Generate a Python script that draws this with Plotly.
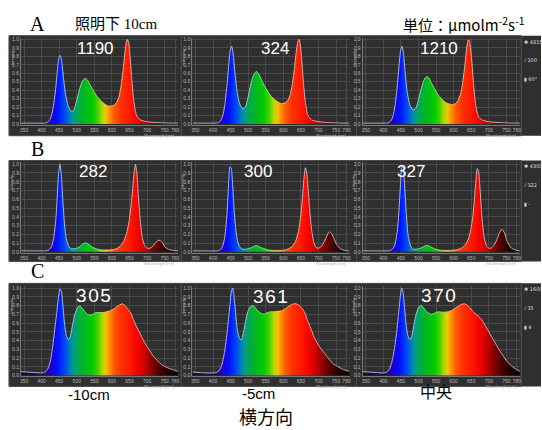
import plotly.graph_objects as go

# ---------------- data ----------------
WL_A = [342, 380, 405, 415, 422, 428, 434, 440, 445, 449, 453, 457, 462, 468, 475, 482, 488, 494, 500, 506,
        512, 518, 524, 530, 537, 545, 555, 565, 575, 585, 595, 605, 613, 620, 626, 632, 637, 641, 644, 648,
        652, 657, 663, 670, 680, 695, 715, 740, 765, 788]
A1 = [0.01, 0.01, 0.01, 0.015, 0.04, 0.1, 0.22, 0.42, 0.64, 0.78, 0.81, 0.74, 0.55, 0.35, 0.22, 0.16, 0.15, 0.19, 0.28, 0.38,
      0.47, 0.52, 0.54, 0.52, 0.47, 0.41, 0.34, 0.29, 0.25, 0.22, 0.21, 0.22, 0.25, 0.32, 0.45, 0.65, 0.85, 0.97, 1.0, 0.95,
      0.78, 0.5, 0.25, 0.1, 0.05, 0.03, 0.02, 0.015, 0.01, 0.01]
A2 = [0.01, 0.01, 0.01, 0.015, 0.04, 0.1, 0.24, 0.47, 0.71, 0.87, 0.92, 0.84, 0.62, 0.4, 0.25, 0.19, 0.18, 0.22, 0.32, 0.44,
      0.54, 0.6, 0.62, 0.59, 0.53, 0.46, 0.39, 0.33, 0.29, 0.26, 0.24, 0.25, 0.28, 0.35, 0.48, 0.67, 0.86, 0.97, 1.0, 0.95,
      0.78, 0.5, 0.25, 0.1, 0.05, 0.03, 0.02, 0.015, 0.01, 0.01]
A3 = [0.01, 0.01, 0.01, 0.015, 0.04, 0.1, 0.24, 0.47, 0.71, 0.87, 0.92, 0.84, 0.6, 0.37, 0.23, 0.175, 0.17, 0.2, 0.29, 0.39,
      0.48, 0.54, 0.56, 0.54, 0.48, 0.42, 0.35, 0.3, 0.26, 0.24, 0.23, 0.24, 0.28, 0.36, 0.5, 0.7, 0.9, 0.99, 0.99, 0.9,
      0.72, 0.45, 0.22, 0.09, 0.05, 0.03, 0.02, 0.015, 0.01, 0.01]

WL_B = [342, 380, 410, 420, 428, 434, 440, 444, 448, 452, 456, 460, 465, 470, 477, 485, 495, 505, 515, 522,
        528, 535, 545, 558, 572, 590, 605, 615, 625, 635, 643, 650, 655, 659, 663, 667, 671, 675, 680, 686,
        693, 700, 708, 716, 724, 731, 737, 744, 752, 762, 775, 788]
B1 = [0.01, 0.01, 0.01, 0.02, 0.06, 0.15, 0.35, 0.6, 0.88, 1.0, 0.88, 0.6, 0.32, 0.15, 0.06, 0.035, 0.035, 0.05, 0.08, 0.1,
      0.1, 0.08, 0.05, 0.03, 0.02, 0.02, 0.025, 0.04, 0.07, 0.13, 0.23, 0.38, 0.55, 0.72, 0.9, 1.0, 0.9, 0.65, 0.38, 0.17,
      0.07, 0.04, 0.04, 0.06, 0.1, 0.13, 0.13, 0.1, 0.05, 0.025, 0.015, 0.01]
B2 = [0.01, 0.01, 0.01, 0.02, 0.07, 0.18, 0.45, 0.75, 0.97, 0.95, 0.75, 0.48, 0.25, 0.12, 0.05, 0.03, 0.03, 0.04, 0.06, 0.07,
      0.065, 0.05, 0.035, 0.02, 0.015, 0.015, 0.02, 0.035, 0.06, 0.12, 0.23, 0.42, 0.65, 0.85, 0.96, 0.9, 0.7, 0.48, 0.27, 0.12,
      0.05, 0.04, 0.06, 0.11, 0.18, 0.23, 0.21, 0.15, 0.08, 0.035, 0.015, 0.01]
B3 = [0.01, 0.01, 0.01, 0.015, 0.04, 0.1, 0.25, 0.45, 0.72, 0.95, 0.98, 0.78, 0.45, 0.2, 0.07, 0.03, 0.03, 0.04, 0.06, 0.07,
      0.07, 0.055, 0.035, 0.02, 0.015, 0.015, 0.02, 0.03, 0.05, 0.09, 0.16, 0.28, 0.42, 0.6, 0.8, 0.95, 0.92, 0.72, 0.42, 0.18,
      0.07, 0.04, 0.045, 0.08, 0.15, 0.22, 0.26, 0.22, 0.12, 0.05, 0.02, 0.01]

WL_C = [342, 360, 380, 400, 410, 418, 425, 432, 438, 443, 448, 452, 456, 460, 465, 470, 476, 481, 487, 493,
        499, 505, 511, 517, 523, 530, 537, 545, 555, 565, 575, 585, 595, 605, 615, 623, 630, 637, 645, 653,
        661, 670, 680, 690, 700, 710, 720, 730, 740, 752, 765, 778, 788]
C1 = [0.045, 0.04, 0.035, 0.03, 0.04, 0.08, 0.17, 0.35, 0.55, 0.72, 0.9, 0.99, 0.97, 0.82, 0.6, 0.46, 0.41, 0.44, 0.56, 0.68,
      0.75, 0.79, 0.79, 0.76, 0.73, 0.7, 0.69, 0.7, 0.72, 0.72, 0.72, 0.73, 0.74, 0.76, 0.79, 0.81, 0.82, 0.8, 0.76, 0.72,
      0.64, 0.56, 0.48, 0.4, 0.33, 0.27, 0.21, 0.17, 0.13, 0.1, 0.08, 0.06, 0.05]
C2 = [0.04, 0.035, 0.03, 0.03, 0.035, 0.06, 0.12, 0.25, 0.42, 0.6, 0.8, 0.95, 1.0, 0.9, 0.68, 0.5, 0.42, 0.41, 0.5, 0.63,
      0.73, 0.78, 0.8, 0.79, 0.76, 0.73, 0.71, 0.7, 0.72, 0.73, 0.73, 0.735, 0.74, 0.76, 0.79, 0.81, 0.82, 0.82, 0.8, 0.77,
      0.72, 0.62, 0.52, 0.42, 0.35, 0.29, 0.24, 0.19, 0.14, 0.11, 0.08, 0.06, 0.05]
C3 = [0.045, 0.04, 0.035, 0.03, 0.04, 0.08, 0.17, 0.32, 0.5, 0.7, 0.9, 1.0, 0.95, 0.78, 0.57, 0.45, 0.41, 0.45, 0.58, 0.7,
      0.77, 0.8, 0.79, 0.76, 0.73, 0.71, 0.7, 0.71, 0.73, 0.725, 0.725, 0.73, 0.745, 0.77, 0.8, 0.815, 0.82, 0.81, 0.78, 0.74,
      0.71, 0.68, 0.64, 0.57, 0.5, 0.43, 0.36, 0.29, 0.23, 0.16, 0.11, 0.07, 0.05]

PPFD = ["1190", "324", "1210", "282", "300", "327", "305", "361", "370"]
X_TICKS = [350, 400, 450, 500, 550, 600, 650, 700, 750, 780]
Y_TICKS = [0.0, 0.1, 0.2, 0.3, 0.4, 0.5, 0.6, 0.7, 0.8, 0.9, 1.0]
ROW_LABELS = ["A", "B", "C"]
COL_LABELS = ["-10cm", "-5cm", "中央"]
INFO = [["4815", "100", "60°"], ["4300", "322", "-"], ["1600", "35", "4"]]

PANELS = [(WL_A, A1), (WL_A, A2), (WL_A, A3),
          (WL_B, B1), (WL_B, B2), (WL_B, B3),
          (WL_C, C1), (WL_C, C2), (WL_C, C3)]

# ---------------- style ----------------
SPEC_NM = [342, 400, 415, 430, 445, 460, 472, 482, 492, 502, 520, 545, 560, 572, 582, 592, 605, 625, 650, 675,
           695, 715, 740, 765, 788]
SPEC_COL = ['#101030', '#141450', '#200a90', '#1a00e0', '#0010ff', '#0038ff', '#0060e0', '#0088b0', '#00a080',
            '#00a850', '#00b820', '#00cc00', '#50d000', '#b0d800', '#f0c800', '#ff9000', '#ff5a00', '#ff3000',
            '#ff1800', '#f00000', '#c00000', '#800000', '#400000', '#1a0000', '#0a0000']
CS = [[(n - SPEC_NM[0]) / (SPEC_NM[-1] - SPEC_NM[0]), c] for n, c in zip(SPEC_NM, SPEC_COL)]

W, H = 542, 430
def fx(p): return p / W
def fy(p): return 1 - p / H

ROWS = [(36, 124, 34, 135), (162, 253, 160, 262), (287, 378, 284, 388)]
COLS = [(20, 178, 8, 181), (192, 350, 181, 357), (363, 521, 357, 522)]
NUM_POS = [(95, 47), (275, 47), (440, 47), (92, 171), (258, 171), (412, 171), (93, 296), (270, 297), (439, 296)]
BG = '#2f2f2f'
GRID = '#4a4a4a'
TICKC = '#b8b8b8'

fig = go.Figure()
layout = dict(width=W, height=H, margin=dict(l=0, r=0, t=0, b=0), paper_bgcolor='white',
              plot_bgcolor=BG, showlegend=False)
shapes = []
ann = []

for r, (pt, pb, bt, bb) in enumerate(ROWS):
    shapes.append(dict(type='rect', xref='paper', yref='paper', x0=fx(8), x1=fx(542), y0=fy(bb), y1=fy(bt),
                       fillcolor=BG, line=dict(width=0), layer='below'))
    shapes.append(dict(type='line', xref='paper', yref='paper', x0=fx(522), x1=fx(522), y0=fy(bb), y1=fy(bt),
                       line=dict(color='#5a5a5a', width=1), layer='below'))
    for c, (pl, pr, bl, br) in enumerate(COLS):
        k = r * 3 + 1 + c
        shapes.append(dict(type='rect', xref='paper', yref='paper', x0=fx(bl), x1=fx(br), y0=fy(bb), y1=fy(bt),
                           fillcolor=BG, line=dict(color='#4f4f4f', width=1), layer='below'))
        xa = 'xaxis' if k == 1 else f'xaxis{k}'
        ya = 'yaxis' if k == 1 else f'yaxis{k}'
        xr = 'x' if k == 1 else f'x{k}'
        yr = 'y' if k == 1 else f'y{k}'
        layout[xa] = dict(domain=[fx(pl), fx(pr)], anchor=yr, range=[341, 789], tickvals=X_TICKS,
                          ticktext=[str(v) for v in X_TICKS], tickangle=0,
                          tickfont=dict(size=5, color=TICKC, family='Liberation Sans'),
                          showgrid=True, gridcolor=GRID, gridwidth=1, zeroline=False, showline=True,
                          linecolor='#777777', linewidth=1, ticks='', fixedrange=True)
        layout[ya] = dict(domain=[fy(pb), fy(pt)], anchor=xr, range=[-0.01, 1.02], tickvals=Y_TICKS,
                          ticktext=[f'{v:.1f}' for v in Y_TICKS], tickangle=0,
                          tickfont=dict(size=5, color=TICKC, family='Liberation Sans'),
                          showgrid=True, gridcolor=GRID, gridwidth=1, zeroline=False, showline=True,
                          linecolor='#777777', linewidth=1, ticks='', fixedrange=True)
        wl, vals = PANELS[k - 1]
        fig.add_trace(go.Scatter(x=wl, y=vals, mode='lines', xaxis=xr, yaxis=yr,
                                 line=dict(color='#d8d8d8', width=0.8, shape='spline', smoothing=0.5),
                                 fill='tozeroy',
                                 fillgradient=dict(type='horizontal', colorscale=CS, start=SPEC_NM[0], stop=SPEC_NM[-1]),
                                 hoverinfo='skip'))
        txt = PPFD[k - 1]
        if r == 2:
            txt = '\u200a'.join(txt)
        nx, ny = NUM_POS[k - 1]
        ann.append(dict(text=txt, xref='paper', yref='paper', x=fx(nx), y=fy(ny),
                        showarrow=False, xanchor='center', yanchor='middle',
                        font=dict(size=19 if r == 2 else 17, color='white', family='Liberation Sans')))
        ann.append(dict(text='Intensity', xref='paper', yref='paper', x=fx(pl - 9), y=fy(pt + 10),
                        showarrow=False, textangle=-90, xanchor='center', yanchor='top',
                        font=dict(size=4, color=TICKC, family='Liberation Sans')))
        ann.append(dict(text='Wavelength [nm]', xref='paper', yref='paper', x=fx(pr - 2), y=fy(pb + 10.5),
                        showarrow=False, xanchor='right', yanchor='middle',
                        font=dict(size=4, color=TICKC, family='Liberation Sans')))
    for j, t in enumerate(INFO[r]):
        sym = ['✱', '⁄', '▮'][j]
        ann.append(dict(text=f'{sym} {t}', xref='paper', yref='paper', x=fx(523), y=fy(bt + 6 + j * 19),
                        showarrow=False, xanchor='left', yanchor='middle',
                        font=dict(size=5, color='#dddddd', family='DejaVu Sans')))
    ann.append(dict(text=ROW_LABELS[r], xref='paper', yref='paper', x=fx(37), y=fy(bt - 12),
                    showarrow=False, xanchor='center', yanchor='middle',
                    font=dict(size=20, color='black', family='Liberation Serif')))

ann.append(dict(text='照明下 10cm', xref='paper', yref='paper', x=fx(115), y=fy(22), showarrow=False,
                xanchor='center', yanchor='middle',
                font=dict(size=15, color='black', family='Liberation Serif, Noto Sans CJK JP')))
ann.append(dict(text='単位：μmolm<sup>-2</sup>s<sup>-1</sup>', xref='paper', yref='paper', x=fx(465), y=fy(22),
                showarrow=False, xanchor='center', yanchor='middle',
                font=dict(size=15, color='black', family='Noto Sans CJK JP')))
for c, (x, y, s) in enumerate([(88, 396, 15), (258, 395, 15), (437, 394, 16)]):
    ann.append(dict(text=COL_LABELS[c], xref='paper', yref='paper', x=fx(x), y=fy(y), showarrow=False,
                    xanchor='center', yanchor='middle',
                    font=dict(size=s, color='black', family='Liberation Sans, Noto Sans CJK JP')))
ann.append(dict(text='横方向', xref='paper', yref='paper', x=fx(266), y=fy(418), showarrow=False,
                xanchor='center', yanchor='middle', font=dict(size=18, color='black', family='Noto Sans CJK JP')))

layout['shapes'] = shapes
layout['annotations'] = ann
fig.update_layout(**layout)
fig.write_html('out.html', config={'displayModeBar': False},
               post_script="document.body.style.margin='0';document.body.style.overflow='hidden';")
